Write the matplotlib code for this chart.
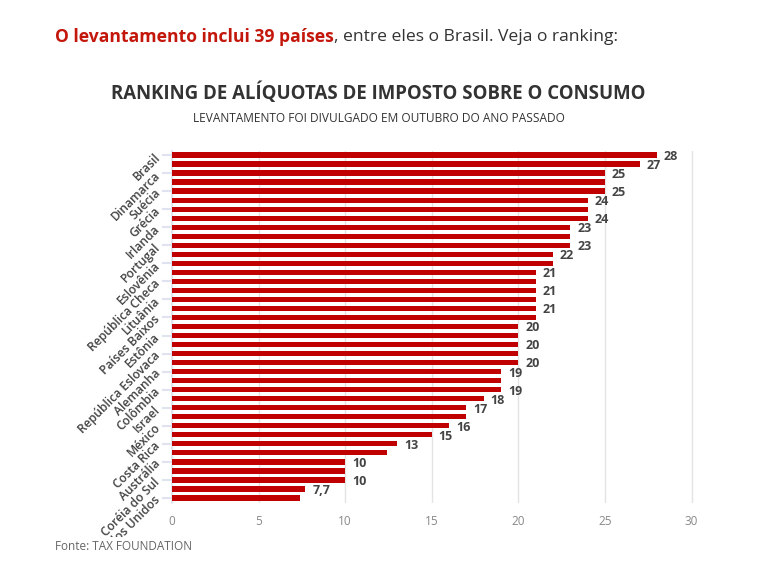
import matplotlib
matplotlib.use("Agg")
import matplotlib.pyplot as plt
from matplotlib.transforms import Bbox, TransformedBbox

# ---- data ----
values = [28, 27, 25, 25, 25, 24, 24, 24, 23, 23, 23, 22, 22, 21, 21, 21, 21, 21, 21,
          20, 20, 20, 20, 20, 19, 19, 19, 18, 17, 17, 16, 15, 13, 12.4, 10, 10, 10, 7.7, 7.4]
label_shown = [1, 1, 1, 0, 1, 1, 0, 1, 1, 0, 1, 1, 0, 1, 0, 1, 0, 1, 0,
               1, 0, 1, 0, 1, 1, 0, 1, 1, 1, 0, 1, 1, 1, 0, 1, 0, 1, 1, 0]
tick_positions = list(range(0, 39, 2))
tick_labels = ["Brasil", "Dinamarca", "Suécia", "Grécia", "Irlanda", "Portugal",
               "Eslovênia", "República Checa", "Lituânia", "Países Baixos", "Estônia",
               "República Eslovaca", "Alemanha", "Colômbia", "Israel", "México",
               "Costa Rica", "Austrália", "Coréia do Sul", "Estados Unidos"]
x_ticks = [0, 5, 10, 15, 20, 25, 30]

W, H = 757, 579
fig = plt.figure(figsize=(W / 100, H / 100), dpi=100)
fig.patch.set_facecolor("white")
FONT = ["Open Sans", "DejaVu Sans"]

ax = fig.add_axes([172 / W, 1 - 502.5 / H, 523 / W, 352 / H])
ypos = list(range(len(values)))
ax.barh(ypos, values, height=0.58, color="#c00000", zorder=3)
ax.set_ylim(len(values) - 0.5, -0.5)
ax.set_xlim(0, 30.2)

for y, v, s in zip(ypos, values, label_shown):
    if s:
        txt = f"{v:g}".replace(".", ",")
        ax.annotate(txt, (v, y), xytext=(5, -1), textcoords="offset points",
                    ha="left", va="center", fontsize=9, fontweight="bold",
                    color="#444444", family=FONT)

ax.set_xticks(x_ticks)
ax.set_xticklabels([str(t) for t in x_ticks], family=FONT, fontsize=8.5, color="#888888")
ax.tick_params(axis="x", length=0, pad=9)
ax.grid(axis="x", color="#e4e4e4", linewidth=1, zorder=0)

ax.set_yticks(tick_positions)
ax.set_yticklabels(tick_labels, family=FONT, fontsize=8.7, fontweight="semibold",
                   color="#444444", rotation=45, ha="right", va="center",
                   rotation_mode="anchor")
ax.tick_params(axis="y", length=7, width=1.5, color="#dfe3ef", pad=3)

for sp in ["top", "right", "bottom"]:
    ax.spines[sp].set_visible(False)
ax.spines["left"].set_color("#dfe3ef")
ax.spines["left"].set_linewidth(1.2)

clip = TransformedBbox(Bbox([[0, 42 / H], [1, 1]]), fig.transFigure)
for lab in ax.get_yticklabels():
    lab.set_clip_on(True)
    lab.set_clip_box(clip)

# ---- header ----
fig.canvas.draw()
r = fig.canvas.get_renderer()
t1 = fig.text(55 / W, 1 - 37 / H, "O levantamento inclui 39 países", family=FONT,
              fontsize=12.6, fontweight="bold", color="#c4170c", va="center", ha="left")
bb = t1.get_window_extent(renderer=r)
fig.text(bb.x1 / W, 1 - 37 / H, ", entre eles o Brasil. Veja o ranking:", family=FONT,
         fontsize=12.6, color="#333333", va="center", ha="left")

fig.text(0.5, 1 - 93 / H, "RANKING DE ALÍQUOTAS DE IMPOSTO SOBRE O CONSUMO", family=FONT,
         fontsize=13.4, fontweight="bold", color="#333333", ha="center", va="center")
fig.text(0.5, 1 - 118 / H, "LEVANTAMENTO FOI DIVULGADO EM OUTUBRO DO ANO PASSADO", family=FONT,
         fontsize=8.6, color="#333333", ha="center", va="center")
fig.text(55 / W, 1 - 547 / H, "Fonte: TAX FOUNDATION", family=FONT,
         fontsize=8.5, color="#666666", ha="left", va="center")

fig.savefig("out.png", dpi=100, facecolor="white")
